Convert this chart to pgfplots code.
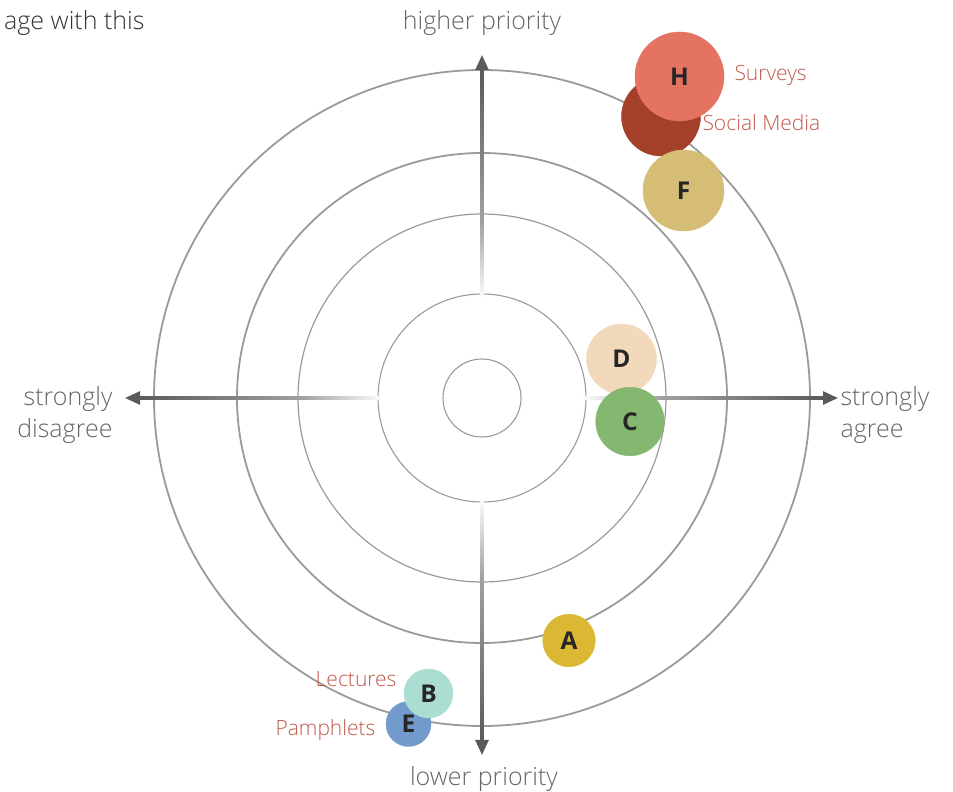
\documentclass[border=0pt]{standalone}
\usepackage{fontspec}
\setmainfont{Open Sans Light}
\newfontfamily\letterfont{Open Sans}
\usepackage{pgfplots}
\pgfplotsset{compat=1.18}
\usetikzlibrary{arrows.meta}

\definecolor{axisgray}{HTML}{5A5A5A}
\definecolor{midgray}{HTML}{A0A0A0}
\definecolor{ringgray}{HTML}{9A9A9A}
\definecolor{labelred}{HTML}{C0584A}
\definecolor{txtgray}{HTML}{666666}
\definecolor{cH}{HTML}{E57361}
\definecolor{cG}{HTML}{A43F29}
\definecolor{cF}{HTML}{D6BD75}
\definecolor{cD}{HTML}{F2D9BB}
\definecolor{cC}{HTML}{84B870}
\definecolor{cA}{HTML}{DBB834}
\definecolor{cB}{HTML}{ABDDD3}
\definecolor{cE}{HTML}{729BCB}

% arm of an axis: white at the centre side, dark at the tip
% (pgf maps the 25bp..75bp part of a shading onto the path)
\pgfdeclarehorizontalshading{armfade}{100bp}{color(0bp)=(white); color(25bp)=(white); color(42bp)=(midgray); color(75bp)=(axisgray); color(100bp)=(axisgray)}

% one bubble = one plot: colour, radius (pt)
\pgfplotsset{
  bubble/.style 2 args={only marks, mark=*, mark size=#2pt, color=#1,
    mark options={fill=#1},
    point meta=explicit symbolic,
    nodes near coords, nodes near coords align=center,
    every node near coord/.append style={anchor=center, text=black!85,
      font=\fontsize{24.5}{28}\letterfont\bfseries}},
}

\begin{document}
\begin{tikzpicture}
\begin{axis}[
    x=1pt, y=1pt,
    xmin=-482, xmax=471,
    ymin=-394, ymax=398,
    hide axis, clip=false,
]
% rings
\draw[ringgray, line width=1.1pt] (axis cs:0,0) circle[radius=39];
\draw[ringgray, line width=1.1pt] (axis cs:0,0) circle[radius=104];
\draw[ringgray, line width=1.2pt] (axis cs:0,0) circle[radius=184];
\draw[ringgray, line width=1.8pt] (axis cs:0,0) circle[radius=245];
\draw[ringgray, line width=1.8pt] (axis cs:0,0) circle[radius=328];

% axes, fading towards the centre
\shade[shading=armfade, shading angle=0] (axis cs:98,-1.3) rectangle (axis cs:342,1.3);
\shade[shading=armfade, shading angle=180] (axis cs:-343,-1.3) rectangle (axis cs:-98,1.3);
\shade[shading=armfade, shading angle=90] (axis cs:-1.3,98) rectangle (axis cs:1.3,329);
\shade[shading=armfade, shading angle=270] (axis cs:-1.3,-343) rectangle (axis cs:1.3,-98);
\begin{scope}[axisgray, line width=2.6pt, -{Triangle[length=15pt,width=13pt]}]
\draw (axis cs:0,325) -- (axis cs:0,343);
\draw (axis cs:0,-339) -- (axis cs:0,-357);
\draw (axis cs:-339,0) -- (axis cs:-357,0);
\draw (axis cs:338,0) -- (axis cs:356,0);
\end{scope}

% bubbles
\addplot[bubble={cE}{22.5}] coordinates {(-73.5,-326)[E]};
\addplot[bubble={cB}{24.5}] coordinates {(-53.5,-295.5)[B]};
\addplot[bubble={cA}{26.3}] coordinates {(87,-242.5)[A]};
\addplot[bubble={cD}{35}] coordinates {(139.5,39)[D]};
\addplot[bubble={cC}{34.3}] coordinates {(148,-23.5)[C]};
\addplot[only marks, mark=*, mark size=39.5pt, color=cG, mark options={fill=cG}] coordinates {(179,281.5)};
\addplot[bubble={cH}{44.5}] coordinates {(197.5,321.5)[H]};
\addplot[bubble={cF}{40.5}] coordinates {(201.5,207.5)[F]};
\node[text=black!85, font=\fontsize{24.5}{28}\letterfont\bfseries] at (axis cs:167,261) {G};

% bubble names
\begin{scope}[every node/.style={text=labelred, font=\fontsize{21}{24}\selectfont}]
\node[anchor=west] at (axis cs:249,323) {Surveys};
\node[anchor=west] at (axis cs:217,275) {Social Media};
\node[anchor=east] at (axis cs:-82,-281) {Lectures};
\node[anchor=east] at (axis cs:-103,-332) {Pamphlets};
\end{scope}

% axis captions
\begin{scope}[every node/.style={text=txtgray, font=\fontsize{25}{32}\selectfont}]
\node at (axis cs:0,375) {higher priority};
\node at (axis cs:2,-381) {lower priority};
\node[anchor=east, align=right] at (axis cs:-366,-17) {strongly\\disagree};
\node[anchor=west, align=left] at (axis cs:355,-17) {strongly\\agree};
\node[anchor=east, text=black!80] at (axis cs:-334,375) {age with this};
\end{scope}
\end{axis}
\pgfresetboundingbox
\path[use as bounding box] (0,0) rectangle (953pt,792pt);
\end{tikzpicture}
\end{document}
